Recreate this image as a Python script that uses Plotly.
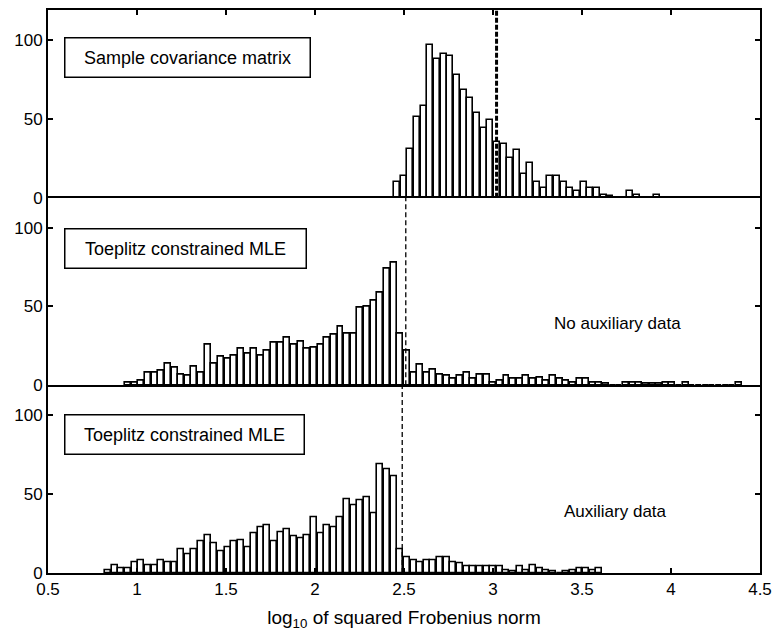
import plotly.graph_objects as go

# ---------------- data ----------------
top_counts = [10, 14, 31, 51, 58, 97, 88, 91, 90, 78, 68, 63, 54, 44, 49, 35, 34, 25, 30, 15,
              22, 10, 6, 14, 14, 10, 6, 4, 10, 6, 6, 2, 1, 0, 0, 4, 2, 0, 0, 2]
top_bin_start = 2.441
top_bin_width = 0.0375

mid_counts = [2, 2, 3, 8, 8, 9, 14, 11, 7, 6, 12, 8, 26, 14, 18, 17, 19, 23, 20, 23,
              19, 22, 27, 27, 30, 26, 28, 23, 24, 26, 30, 32, 37, 33, 33, 49, 50, 54, 59, 74,
              78, 33, 22, 8, 13, 8, 10, 7, 6, 4, 6, 8, 4, 7, 7, 2, 3, 6, 4, 4,
              6, 4, 5, 3, 6, 4, 3, 2, 4, 4, 2, 2, 1, 0, 0, 2, 2, 2, 1, 1,
              1, 2, 2, 0, 2, 0, 0, 0, 0, 0, 0, 0, 2]
mid_bin_start = 0.931
mid_bin_width = 0.0373

bot_counts = [2, 5, 3, 3, 7, 8, 5, 5, 8, 7, 7, 15, 12, 15, 20, 24, 19, 14, 16, 20,
              21, 16, 25, 29, 30, 20, 26, 28, 23, 22, 24, 35, 25, 30, 29, 35, 47, 43, 46, 48,
              38, 69, 66, 61, 15, 10, 8, 7, 8, 8, 10, 10, 7, 6, 4, 4, 4, 4, 4, 4,
              2, 1, 4, 2, 5, 3, 2, 1, 0, 1, 2, 3, 3, 2, 3]
bot_bin_start = 0.819
bot_bin_width = 0.0373

dashed_x = [3.02, 2.51, 2.49]          # vertical reference lines (top, middle, bottom)
panel_titles = ["Sample covariance matrix", "Toeplitz constrained MLE", "Toeplitz constrained MLE"]
side_notes = ["", "No auxiliary data", "Auxiliary data"]
side_note_pos = [(3.7, 39), (3.7, 39), (3.69, 39)]

x_range = [0.5, 4.5]
x_ticks = [0.5, 1, 1.5, 2, 2.5, 3, 3.5, 4, 4.5]
x_tick_labels = ["0.5", "1", "1.5", "2", "2.5", "3", "3.5", "4", "4.5"]
y_ticks = [0, 50, 100]
y_range = [0, 119]
x_title = "log<sub>10</sub> of squared Frobenius norm"

FONT = "Liberation Sans, Arial, Helvetica, sans-serif"

# ---------------- figure ----------------
fig = go.Figure()

panels = [
    (top_counts, top_bin_start, top_bin_width, "x", "y"),
    (mid_counts, mid_bin_start, mid_bin_width, "x2", "y2"),
    (bot_counts, bot_bin_start, bot_bin_width, "x3", "y3"),
]
for counts, start, width, xa, ya in panels:
    centers = [start + (i + 0.5) * width for i in range(len(counts))]
    fig.add_trace(go.Bar(
        x=centers, y=counts, width=width * 0.9,
        marker=dict(color="white", line=dict(color="black", width=1.6)),
        xaxis=xa, yaxis=ya, showlegend=False, hoverinfo="x+y",
    ))

domains = [[2 / 3, 1.0], [1 / 3, 2 / 3], [0.0, 1 / 3]]
axis_common = dict(showline=True, linecolor="black", linewidth=2,
                   showgrid=False, zeroline=False,
                   tickfont=dict(family=FONT, size=17, color="black"))

layout = dict(
    width=782, height=635,
    margin=dict(l=48, r=19, t=10, b=62),
    paper_bgcolor="white", plot_bgcolor="white",
    bargap=0, font=dict(family=FONT, color="black"),
)
names = ["", "2", "3"]
for i, n in enumerate(names):
    xa = dict(axis_common, range=x_range, domain=[0, 1], anchor="y" + n,
              tickvals=x_ticks, ticktext=x_tick_labels)
    if i == 0:
        # top line only; the middle panel's upper line separates the panels
        xa.update(side="top", mirror=False, ticks="inside", ticklen=5, tickwidth=1.5,
                  tickcolor="black", showticklabels=False)
    elif i == 1:
        xa.update(mirror=True, ticks="", showticklabels=False)
    else:
        xa.update(mirror=False, ticks="inside", ticklen=5, tickwidth=1.5, tickcolor="black",
                  showticklabels=True,
                  title=dict(text=x_title, standoff=12,
                             font=dict(family=FONT, size=19, color="black")))
    ya = dict(axis_common, range=y_range, domain=domains[i], anchor="x" + n,
              tickvals=y_ticks, ticks="inside", ticklen=5, tickwidth=1.5,
              tickcolor="black", mirror="ticks")
    layout["xaxis" + n] = xa
    layout["yaxis" + n] = ya
fig.update_layout(**layout)

# dashed vertical lines
for i, n in enumerate(names):
    fig.add_shape(type="line", xref="x" + n, yref="y" + n + " domain",
                  x0=dashed_x[i], x1=dashed_x[i], y0=0, y1=1,
                  line=dict(color="black", width=3 if i == 0 else 1.3,
                            dash="5px,2px" if i == 0 else "5px,3px"))

# boxed panel titles
box_tops = [0.855, 0.841, 0.846]
box_widths = [238, 234, 232]
for i, n in enumerate(names):
    fig.add_annotation(xref="x" + n + " domain", yref="y" + n + " domain",
                       x=0.0224, y=box_tops[i], xanchor="left", yanchor="top",
                       text=panel_titles[i], showarrow=False,
                       width=box_widths[i], height=32, align="center",
                       bordercolor="black", borderwidth=1.5, borderpad=3,
                       bgcolor="white",
                       font=dict(family=FONT, size=18, color="black"))
    if side_notes[i]:
        fig.add_annotation(xref="x" + n, yref="y" + n,
                           x=side_note_pos[i][0], y=side_note_pos[i][1],
                           text=side_notes[i], showarrow=False,
                           font=dict(family=FONT, size=17, color="black"))

fig.write_html("out.html")
